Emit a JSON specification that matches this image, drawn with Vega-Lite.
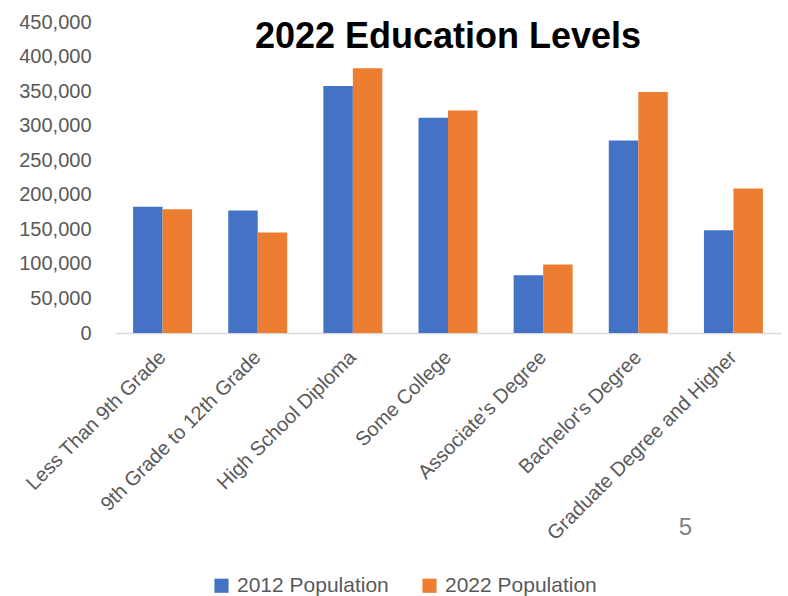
{
  "$schema": "https://vega.github.io/schema/vega-lite/v6.json",
  "width": 666,
  "height": 311,
  "autosize": {"type": "none"},
  "padding": {"left": 115, "top": 22, "right": 7, "bottom": 263},
  "background": "white",
  "title": {
    "text": "2022 Education Levels",
    "font": "Liberation Sans",
    "fontWeight": "bold",
    "fontSize": 36,
    "color": "black",
    "anchor": "middle",
    "frame": "group",
    "offset": -44
  },
  "config": {
    "view": {"stroke": null},
    "font": "Liberation Sans"
  },
  "data": {
    "values": [
      {"level": "Less Than 9th Grade", "series": "2012 Population", "population": 182500},
      {"level": "Less Than 9th Grade", "series": "2022 Population", "population": 179200},
      {"level": "9th Grade to 12th Grade", "series": "2012 Population", "population": 177300},
      {"level": "9th Grade to 12th Grade", "series": "2022 Population", "population": 145400},
      {"level": "High School Diploma", "series": "2012 Population", "population": 357300},
      {"level": "High School Diploma", "series": "2022 Population", "population": 383000},
      {"level": "Some College", "series": "2012 Population", "population": 311400},
      {"level": "Some College", "series": "2022 Population", "population": 322100},
      {"level": "Associate's Degree", "series": "2012 Population", "population": 83600},
      {"level": "Associate's Degree", "series": "2022 Population", "population": 99100},
      {"level": "Bachelor's Degree", "series": "2012 Population", "population": 278700},
      {"level": "Bachelor's Degree", "series": "2022 Population", "population": 348600},
      {"level": "Graduate Degree and Higher", "series": "2012 Population", "population": 148700},
      {"level": "Graduate Degree and Higher", "series": "2022 Population", "population": 209100}
    ]
  },
  "encoding": {
    "x": {
      "field": "level",
      "type": "nominal",
      "sort": null,
      "title": null,
      "scale": {"paddingInner": 0.38, "paddingOuter": 0.19},
      "axis": {
        "labelAngle": -45,
        "labelAlign": "right",
        "labelBaseline": "middle",
        "labelFontSize": 20,
        "labelColor": "#595959",
        "labelPadding": 21,
        "labelLimit": 400,
        "ticks": false,
        "tickSize": 0,
        "domainColor": "#d9d9d9",
        "domainWidth": 1.5
      }
    },
    "y": {
      "field": "population",
      "type": "quantitative",
      "title": null,
      "scale": {"domain": [0, 450000], "nice": false},
      "axis": {
        "values": [0, 50000, 100000, 150000, 200000, 250000, 300000, 350000, 400000, 450000],
        "format": ",.0f",
        "grid": false,
        "domain": false,
        "ticks": false,
        "tickSize": 0,
        "labelPadding": 24,
        "labelFontSize": 20,
        "labelColor": "#595959"
      }
    }
  },
  "layer": [
    {
      "mark": {"type": "bar"},
      "encoding": {
        "xOffset": {"field": "series", "type": "nominal", "scale": {"paddingInner": 0}},
        "color": {
          "field": "series",
          "type": "nominal",
          "scale": {"domain": ["2012 Population", "2022 Population"], "range": ["#4472C4", "#ED7D31"]},
          "legend": {
            "title": null,
            "orient": "none",
            "direction": "horizontal",
            "legendX": 96,
            "legendY": 553,
            "symbolType": "square",
            "symbolSize": 200,
            "symbolStrokeWidth": 0,
            "labelFontSize": 21,
            "labelColor": "#595959",
            "labelOffset": 5,
            "columnPadding": 30
          }
        }
      }
    },
    {
      "transform": [
        {"filter": "datum.level === 'Graduate Degree and Higher' && datum.series === '2012 Population'"}
      ],
      "mark": {"type": "text", "text": "5", "fontSize": 24, "color": "#7f7f7f", "dx": -48, "dy": 195, "baseline": "middle", "align": "center"},
      "encoding": {
        "y": {"datum": 0}
      }
    }
  ]
}
